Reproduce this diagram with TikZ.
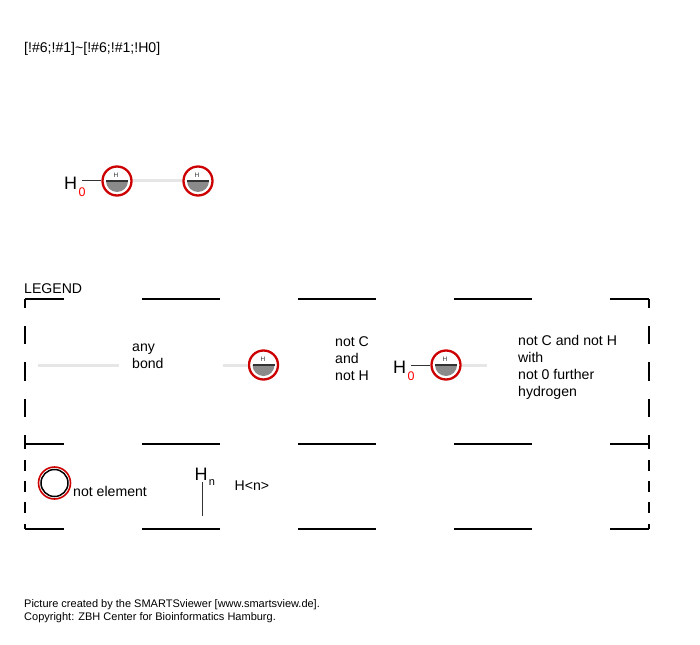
\documentclass[tikz,border=0pt]{standalone}
\usepackage{fontspec}
\setmainfont{Liberation Sans}
\usepackage{xcolor}
\definecolor{ringred}{HTML}{CC0000}
\definecolor{lonegray}{HTML}{8A8A8A}
\definecolor{bondgray}{HTML}{E6E6E6}
\usetikzlibrary{positioning, calc}

\tikzset{
  x=1pt, y=-1pt,
  anybond/.style={line width=3pt, bondgray},
  solidbond/.style={line width=1pt, black!80},
  frameh/.style={line width=1.4pt, dash pattern=on 78pt off 78pt, dash phase=39pt},
  framev/.style={line width=1.4pt, dash pattern=on 18.125pt off 18.125pt, dash phase=9.06pt},
  framevs/.style={line width=1.4pt, dash pattern=on 10.625pt off 10.625pt, dash phase=5.31pt},
  atomnode/.style={circle, draw=ringred, fill=white, line width=2.3pt, minimum size=29pt, inner sep=0pt,
    path picture={
      \fill[lonegray] ($(path picture bounding box.center)+(-11,0)$) arc[start angle=180, end angle=360, radius=11pt] -- cycle;
      \draw[line width=1.2pt, black!80] ($(path picture bounding box.center)+(-11,0)$) -- ++(22,0);
    }},
  atomlabel/.style={font=\fontsize{6.5}{7}\selectfont, text=black!80, inner sep=0pt},
  txt/.style={font=\fontsize{14.1}{17}\selectfont, inner sep=0pt, align=left},
  hlabel/.style={font=\fontsize{18}{18}\selectfont, inner sep=0pt},
  countlabel/.style={font=\fontsize{12.5}{12.5}\selectfont, text=red, inner sep=0pt},
  credit/.style={font=\fontsize{11}{12.6}\selectfont, inner sep=0pt, align=left}
}

\begin{document}
\begin{tikzpicture}

  \useasboundingbox (0,0) rectangle (700,644);

  \node[txt, anchor=base west] (smarts) at (24,52.5) {[!\#6;!\#1]\string~[!\#6;!\#1;!H0]};

  % query
  \node[hlabel] (hzero) at (70.5,183) {H};
  \node[countlabel] (zero) at (82,192) {0};
  \node[atomnode] (atoma) at (117,181) {};
  \node[atomnode] (atomb) at (198,181) {};
  \coordinate[right=4.5pt of hzero.east |- atoma] (hzerostart);
  \draw[solidbond] (hzerostart) -- (atoma);
  \draw[anybond] (atoma) -- (atomb);
  \node[atomlabel] (ha) at (116,175) {H};
  \node[atomlabel] (hb) at (197,175) {H};

  % legend
  \node[txt, anchor=base west] (legend) at (24,293) {LEGEND};
  \coordinate (tl) at (25,299);
  \coordinate (tr) at (649,299);
  \coordinate (ml) at (25,444);
  \coordinate (mr) at (649,444);
  \coordinate (bl) at (25,529);
  \coordinate (br) at (649,529);
  \draw[frameh] (tl) -- (tr);
  \draw[frameh] (ml) -- (mr);
  \draw[frameh] (bl) -- (br);
  \draw[framev] (tl) -- (ml);
  \draw[framev] (tr) -- (mr);
  \draw[framevs] (ml) -- (bl);
  \draw[framevs] (mr) -- (br);

  \coordinate (anya) at (38,365);
  \coordinate (anyb) at (119,365);
  \draw[anybond] (anya) -- (anyb);
  \node[txt, anchor=west] (anytext) at (132,356.5) {any\\bond};

  \coordinate (stuba) at (223,365);
  \node[atomnode] (atomc) at (263.5,365) {};
  \draw[anybond] (stuba) -- (atomc.west);
  \node[atomlabel] (hc) at (263,359) {H};
  \node[txt, anchor=west] (notch) at (335,358.5) {not C\\and\\not H};

  \node[hlabel] (hzerob) at (399.5,367) {H};
  \node[countlabel] (zerob) at (411,376.5) {0};
  \node[atomnode] (atomd) at (446,365) {};
  \coordinate (stubb) at (487,365);
  \coordinate[right=4.5pt of hzerob.east |- atomd] (hzerobstart);
  \draw[solidbond] (hzerobstart) -- (atomd.west);
  \draw[anybond] (atomd.east) -- (stubb);
  \node[atomlabel] (hd) at (445,359) {H};
  \node[txt, anchor=west] (notchzero) at (518,367) {not C and not H\\with\\not 0 further\\hydrogen};

  \node[circle, draw=ringred, line width=1.6pt, minimum size=32pt, inner sep=0pt] (notel) at (54.5,483) {};
  \node[circle, draw=black, line width=1.5pt, minimum size=27pt, inner sep=0pt] (notelin) at (54.5,483) {};
  \node[txt, anchor=base west] (noteltext) at (73,496.5) {not element};

  \node[hlabel] (hn) at (201,474.5) {H};
  \node[font=\fontsize{11}{11}\selectfont, inner sep=0pt] (nn) at (212,483) {n};
  \coordinate (hnstart) at (202.7,482);
  \coordinate (hnend) at (202.7,516);
  \draw[solidbond] (hnstart) -- (hnend);
  \node[txt, anchor=base west] (hntext) at (234.5,490) {H<n>};

  \node[credit, anchor=north west] (creditline) at (24,599.7) {Picture created by the SMARTSviewer [www.smartsview.de].\\Copyright: ZBH Center for Bioinformatics Hamburg.};

\end{tikzpicture}
\end{document}
